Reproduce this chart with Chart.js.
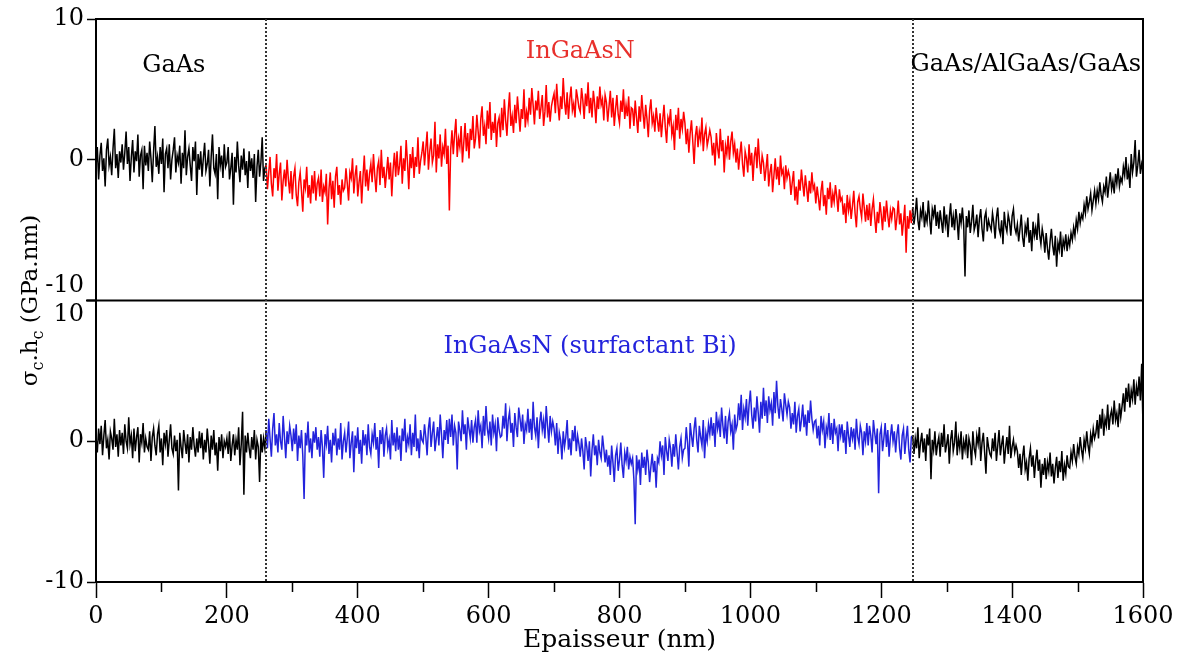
<!DOCTYPE html>
<html>
<head>
<meta charset="utf-8">
<script src="https://cdn.jsdelivr.net/npm/chart.js@4.4.0/dist/chart.umd.min.js"></script>
<style>
  html, body { margin: 0; padding: 0; background: #fff; }
</style>
</head>
<body>
<canvas id="myChart" width="1182" height="659"></canvas>
<script>

// sampling step along the thickness axis (nm)
var step = 2
// interfaces between the layers (nm)
var layerBounds = [260, 1248]
var xTicks = [0, 200, 400, 600, 800, 1000, 1200, 1400, 1600]
var yTicks = [-10, 0, 10]

// top panel : InGaAsN sample (one line = 40 nm)
var topGaAs = [
  -0.5, 0.9, -1.4, 0.3, 1.2, -0.8, 0.1, -1.9, 0.7, 1.5, -0.4, 0.2, -1.1, 0.8, 2.2, -0.6, 0.4, -1.3, 0.6, -0.2,
  1.1, -0.7, 0.5, 2.0, -0.3, 0.9, -1.5, 0.2, 1.4, -0.9, 0.6, -0.1, 1.8, -1.2, 0.3, 0.7, -2.1, 1.0, -0.4, 0.5,
  -0.8, 1.3, 0.1, -1.6, 0.6, 2.4, -0.5, 0.2, -1.0, 0.9, -0.3, 1.5, -2.3, 0.4, 0.8, -0.6, 1.1, -1.4, 0.0, 0.7,
  1.6, -0.9, 0.3, -0.2, 1.0, -1.7, 0.5, -0.6, 2.1, -1.1, 0.2, 0.8, -0.4, -1.5, 0.9, -0.1, 1.3, -2.5, 0.4, -0.7,
  0.6, -1.2, 0.1, 1.2, -0.8, -0.3, 0.7, -1.9, 0.2, 1.8, -0.6, -1.0, 0.4, -2.8, 0.9, -0.4, 0.3, -1.3, 1.1, -0.5,
  -0.2, 0.9, -1.4, -0.6, 0.5, -3.2, 0.2, -0.9, 1.3, -0.4, -1.6, 0.3, -0.7, 0.8, -1.1, -0.1, -2.0, 0.6, -0.8, 0.1,
  -1.3, 0.4, -3.0, -0.5, 0.7, -1.2, -0.2, 1.6, -1.5, -0.6
]
var topInGaAsN = [
  -0.4, -2.1, -0.9, 0.2, -1.7, -2.6, -0.6, -1.3, 0.4, -2.2, -1.0, -0.2, -2.9, -1.5, -0.7, -1.9, 0.0, -1.4, -2.4, -0.8,
  -2.8, -1.2, -0.6, -2.5, -3.3, -1.6, -0.9, -2.2, -3.7, -1.4, -2.0, -0.5, -2.7, -1.8, -3.1, -1.1, -2.4, -0.8, -2.9, -1.7,
  -1.3, -2.6, -0.7, -3.0, -1.9, -2.3, -1.0, -4.6, -2.1, -0.9, -2.8, -1.5, -3.4, -1.2, -0.5, -2.5, -1.8, -3.2, -1.4, -2.2,
  -2.0, -0.6, -1.7, -2.9, -0.9, -1.3, 0.1, -2.4, -1.1, -0.4, -2.6, -1.6, -0.8, -3.1, -1.2, 0.3, -1.9, -0.7, -2.2, -1.0,
  -0.3, -1.6, 0.4, -1.1, -2.3, -0.6, -0.1, -1.8, 0.7, -1.3, -0.5, -2.0, -0.9, 0.2, -1.4, -0.2, -2.6, -0.7, 0.5, -1.2,
  0.6, -1.1, -0.4, 1.0, -1.7, 0.1, -0.8, 1.4, -0.2, -2.1, 0.4, -0.6, 0.9, -1.3, 0.2, -0.5, 1.6, -1.0, -0.1, 0.5,
  1.3, -0.4, 0.8, 2.0, -0.7, 0.6, 1.5, -0.2, 0.3, 2.7, -0.9, 1.1, 0.1, 1.8, -0.5, 0.9, 0.4, 2.2, -0.3, 1.0,
  -3.6, 0.7, 2.1, 0.4, 1.8, 2.9, 0.2, 1.5, 0.9, 2.4, -0.2, 1.2, 2.6, 0.6, 1.9, 0.1, 2.2, 1.4, 3.1, 0.8,
  1.5, 3.2, 2.0, 0.8, 2.9, 3.8, 1.7, 2.4, 1.1, 3.5, 2.2, 4.1, 1.4, 2.7, 1.9, 3.3, 0.9, 2.6, 3.0, 1.6,
  3.7, 2.1, 4.3, 2.8, 1.7, 3.5, 4.8, 2.4, 3.1, 1.9, 3.9, 2.6, 4.5, 3.3, 2.0, 3.6, 2.9, 5.0, 2.3, 3.4,
  2.8, 4.4, 3.2, 5.1, 3.9, 2.5, 4.2, 3.5, 4.9, 2.9, 3.7, 4.6, 2.4, 3.4, 5.3, 3.0, 4.1, 2.7, 3.8, 4.3,
  4.7, 3.3, 5.4, 3.9, 2.8, 4.5, 3.6, 5.8, 4.1, 3.2, 4.8, 2.9, 4.3, 5.2, 3.5, 4.0, 3.0, 5.0, 4.4, 3.7,
  3.4, 5.1, 4.2, 2.9, 4.7, 3.8, 5.5, 3.3, 4.4, 3.0, 4.9, 4.0, 2.6, 4.5, 3.6, 5.2, 3.9, 4.3, 2.8, 4.6,
  4.1, 2.7, 3.8, 4.9, 3.0, 4.4, 2.4, 3.6, 4.6, 3.2, 2.6, 4.2, 3.4, 5.0, 2.9, 3.9, 3.1, 4.5, 2.2, 3.7,
  3.6, 2.4, 4.2, 3.0, 1.9, 3.8, 2.7, 4.6, 3.3, 2.2, 3.9, 2.9, 1.6, 3.5, 4.3, 2.6, 3.1, 2.0, 3.7, 2.8,
  2.0, 3.3, 1.6, 2.8, 3.9, 2.3, 1.2, 3.0, 2.6, 3.6, 1.8, 2.4, 0.7, 3.2, 2.1, 3.7, 1.5, 2.9, 2.2, 3.4,
  2.6, 1.1, 2.2, 0.5, 1.9, 2.8, 1.3, -0.3, 1.7, 2.4, 0.9, 2.0, 1.4, 3.0, 0.6, 1.8, 2.3, 1.0, 1.5, 2.1,
  1.6, 0.3, 1.2, -0.4, 1.9, 0.8, 0.1, 2.2, 0.6, 1.4, -0.9, 1.0, 0.4, 1.7, 0.0, 1.3, 2.0, 0.5, 1.1, -0.2,
  0.8, -0.7, 0.4, 1.3, -0.3, -1.2, 0.6, 0.1, -0.9, 1.1, -0.4, 0.5, -1.5, 0.2, 0.9, -0.6, 1.5, -0.1, -1.0, 0.3,
  -0.2, -1.5, -0.6, 0.4, -1.9, -0.9, -0.3, -2.3, -1.1, 0.1, -1.4, -0.5, -1.8, 0.3, -1.0, -0.7, -2.1, -0.4, -1.3, -0.8,
  -1.2, -2.5, -1.6, -0.8, -2.9, -1.9, -3.2, -1.4, -2.2, -0.7, -1.7, -2.6, -1.1, -2.0, -3.0, -1.5, -2.4, -0.9, -2.1, -1.8,
  -3.1, -1.9, -2.7, -3.6, -2.2, -1.5, -3.3, -2.5, -3.9, -2.0, -2.8, -1.6, -3.4, -2.4, -3.0, -1.8, -2.6, -3.7, -2.1, -2.9,
  -2.7, -3.9, -3.1, -4.5, -2.5, -3.6, -2.9, -4.2, -3.3, -2.2, -3.8, -4.8, -3.0, -2.6, -3.5, -4.1, -2.4, -3.4, -4.4, -3.2,
  -4.3, -3.1, -4.7, -3.5, -2.8, -4.1, -5.2, -3.7, -4.5, -3.0, -3.9, -5.0, -3.3, -4.4, -2.9, -4.0, -4.8, -3.6, -4.2, -3.4,
  -3.5, -5.0, -4.1, -2.9, -4.6, -3.8, -5.4, -4.4, -3.2, -6.6, -4.0, -4.9, -3.6, -4.5
]
var topCap = [
  -3.4, -4.6, -3.8, -2.7, -4.3, -5.0, -3.6, -4.1, -3.0, -4.8, -3.9, -4.4, -2.9, -4.2, -5.3, -3.5, -4.0, -3.2, -4.7, -3.7,
  -4.9, -3.6, -4.4, -5.2, -3.3, -4.6, -3.9, -5.5, -4.1, -3.1, -4.8, -4.0, -5.0, -3.5, -4.3, -5.7, -3.8, -4.5, -3.4, -4.7,
  -8.3, -4.0, -4.8, -3.6, -5.2, -4.4, -3.2, -5.0, -4.6, -3.9, -5.5, -4.2, -3.5, -4.9, -5.8, -4.1, -3.7, -5.1, -4.3, -4.7,
  -5.0, -3.8, -4.5, -5.6, -4.1, -3.4, -4.9, -5.3, -4.3, -6.0, -3.7, -4.7, -5.1, -3.9, -4.4, -5.4, -4.0, -3.5, -4.8, -5.2,
  -4.6, -5.8, -4.9, -3.9, -5.5, -6.2, -4.7, -5.2, -4.1, -5.9, -5.0, -6.5, -4.4, -5.4, -4.8, -5.7, -3.8, -5.3, -6.0, -4.9,
  -5.5, -6.6, -5.2, -6.3, -7.1, -5.8, -4.9, -6.1, -6.8, -5.4, -7.6, -5.9, -6.4, -5.1, -6.9, -5.7, -6.2, -5.3, -6.5, -5.6,
  -6.1, -5.2, -5.7, -4.8, -5.4, -4.3, -4.9, -3.7, -4.5, -3.9, -4.2, -3.2, -3.8, -2.6, -3.5, -3.0, -2.4, -3.6, -2.9, -2.2,
  -3.1, -2.2, -2.8, -1.6, -2.5, -3.0, -1.9, -2.3, -1.2, -2.7, -1.8, -0.9, -2.1, -1.5, -2.4, -1.0, -1.7, -0.6, -1.9, -1.3,
  -1.6, -0.5, -1.1, 0.2, -1.4, -0.7, -2.0, 0.4, -0.9, -0.2, 1.4, -1.2, -0.4, 0.7, -1.0, -0.3, -0.8
]

// bottom panel : InGaAsN grown with Bi surfactant
var botGaAs = [
  0.3, -0.8, 0.9, -0.2, 1.1, -1.0, 0.4, 1.5, -0.5, 0.1, -1.3, 0.7, 0.2, -0.6, 1.6, -0.4, 0.5, -1.1, 0.8, -0.3,
  0.6, -0.9, 1.2, 0.0, -0.5, 1.7, -0.2, 0.4, -1.2, 0.9, -0.7, 0.3, 1.0, -1.5, 0.5, -0.1, 1.3, -0.8, 0.2, -0.4,
  -0.6, 0.7, -1.4, 0.3, 0.9, -0.3, -1.0, 0.5, 1.1, -0.8, 0.2, -1.7, 0.6, -0.2, 0.8, -1.1, 0.1, 1.2, -0.5, -0.9,
  0.4, -0.7, 0.1, -3.5, 0.6, -0.4, -1.2, 0.8, -0.1, -0.9, 0.5, -1.5, 0.3, -0.6, 1.0, -0.3, -1.1, 0.2, -0.8, 0.7,
  -0.5, 0.6, -1.3, 0.1, -0.8, 0.9, -0.2, -1.6, 0.4, -0.6, 0.8, -1.0, -0.1, -2.1, 0.3, -0.7, 0.5, -1.2, 0.0, -0.4,
  0.2, -0.9, 0.7, -1.4, -0.3, 0.5, -1.0, 0.1, -0.6, 1.0, -1.7, -0.2, 2.1, -3.8, 0.4, -0.8, 0.6, -0.5, -1.2, 0.3,
  -0.6, 0.8, -1.3, 0.1, -0.4, -2.9, 0.5, -0.8, 0.2, -0.5
]
var botInGaAsN = [
  0.8, -0.5, 1.6, 0.2, -1.1, 0.9, 2.0, -0.3, 0.5, -0.8, 1.3, 0.0, -0.6, 1.8, 0.3, -1.2, 0.7, -0.2, 1.1, 0.4,
  -0.7, 0.9, -0.2, 1.2, -1.4, 0.4, -0.5, 0.8, -1.0, -4.1, 0.6, -0.3, 1.4, -0.8, 0.2, -1.2, 0.7, -0.1, 1.0, -0.6,
  0.3, -1.1, 0.8, -0.4, -2.6, 0.5, -0.2, 1.1, -0.9, 0.1, -1.5, 0.6, -0.3, 0.9, -1.0, 0.2, -0.6, 1.3, -1.3, 0.0,
  0.6, -0.8, 0.2, 1.4, -1.2, -0.1, 0.7, -2.2, 0.4, -0.5, 1.0, -0.9, 0.1, -1.6, 0.8, -0.3, 0.5, -1.0, 1.2, -0.4,
  -0.9, 0.5, -0.1, 1.3, -0.6, 0.3, -1.9, 0.8, -0.2, 1.0, -1.1, 0.4, 0.9, -0.5, 0.1, -1.3, 1.5, -0.3, 0.6, -0.7,
  1.0, -0.6, 0.4, -1.4, 0.9, 0.0, 1.6, -0.8, 0.3, -0.2, 1.2, -1.0, 0.6, -0.4, 1.9, -0.7, 0.2, -1.2, 0.8, 0.1,
  -0.1, 1.2, 0.3, -1.0, 0.9, 1.7, -0.4, 0.6, 1.4, -0.7, 0.2, 1.0, -0.3, 1.9, 0.5, -1.2, 0.8, 0.1, 1.5, -0.2,
  1.6, 0.3, 1.9, -0.3, 1.1, 0.6, -2.0, 1.4, 0.8, 0.0, 2.2, 0.5, 1.2, -0.6, 1.7, 0.9, 0.2, 1.5, -0.1, 1.0,
  1.5, -0.1, 2.2, 0.7, 1.1, -0.5, 1.8, 0.4, 2.5, 0.9, 0.2, 1.4, -0.3, 1.9, 0.6, 1.2, -0.7, 1.7, 0.8, 0.3,
  0.4, 1.8, 0.9, 2.7, 0.0, 1.5, 2.1, 0.6, 1.3, -0.4, 2.0, 1.0, 0.3, 2.4, 1.6, 0.7, 1.9, -0.2, 1.2, 0.8,
  2.3, 0.6, 1.6, 0.1, 2.8, 1.0, 0.4, 1.7, -0.5, 1.3, 2.1, 0.8, 1.5, 0.2, 2.5, 1.1, -0.1, 1.8, 0.7, 1.4,
  0.9, -0.3, 1.3, -0.9, 0.6, 0.1, -1.3, 0.7, -0.4, 0.3, 1.5, -0.6, 0.2, -1.0, 0.8, 0.0, 1.1, -0.7, 0.4, -0.2,
  -1.1, 0.2, -0.7, -2.0, 0.3, -0.4, -1.4, 0.0, -2.5, -0.6, 0.5, -1.0, -0.3, -1.7, 0.1, -0.8, -1.2, 0.4, -0.5, -1.5,
  -0.6, -1.8, -1.0, -2.4, -0.3, -1.5, -2.9, -1.0, -0.5, -2.1, -1.3, -0.1, -1.7, -2.6, -0.8, -1.4, -0.4, -2.0, -1.1, -1.6,
  -1.2, -2.7, -5.9, -1.0, -2.0, -1.3, -3.1, -0.8, -1.9, -1.1, -2.4, -0.6, -1.5, -2.9, -1.8, -0.9, -2.2, -1.4, -3.3, -1.2,
  -1.5, 0.0, -1.0, -0.3, -2.4, 0.3, -0.7, -1.4, 0.1, -0.5, -1.8, -0.2, -1.1, 0.5, -0.8, -2.0, -0.4, 0.2, -1.2, -0.6,
  -0.5, 1.0, -0.1, -1.8, 1.3, 0.4, -0.4, 0.9, 1.7, 0.1, -0.8, 1.1, 0.3, -0.3, 1.5, -1.2, 0.6, 0.0, 1.2, 0.5,
  1.7, 0.4, 1.3, -0.4, 2.1, 0.9, 1.5, 0.3, 2.4, 1.1, 0.2, 1.8, -0.2, 1.4, 2.0, 0.7, 1.2, -0.6, 1.9, 0.8,
  1.2, 2.7, 1.5, 3.3, 0.8, 2.3, 1.7, 3.0, 1.1, 2.6, 3.6, 1.9, 0.9, 2.4, 1.4, 3.2, 2.0, 0.6, 2.8, 1.6,
  3.8, 1.8, 2.9, 1.3, 3.2, 2.2, 2.7, 1.1, 3.5, 2.0, 4.3, 2.5, 1.6, 3.0, 2.3, 1.4, 3.4, 2.6, 1.9, 2.8,
  2.4, 0.9, 2.0, 1.2, 2.8, 0.6, 1.8, 2.3, 0.7, 1.5, 2.6, 1.0, 1.9, 0.4, 2.2, 1.3, 2.9, 1.6, 0.8, 1.4,
  1.5, 0.2, 1.1, -0.3, 1.8, 0.8, 1.4, -0.5, 1.0, 0.5, 2.0, 0.1, 1.3, -0.2, 1.6, 0.6, 0.9, -0.7, 1.2, 0.4,
  1.2, -0.1, 0.8, -0.9, 1.4, 0.4, -0.4, 1.0, 0.2, 0.9, -0.6, 1.6, 0.3, -0.2, 1.1, 0.6, -1.0, 0.7, 0.0, 1.3,
  -0.3, 1.1, 0.4, -0.8, 1.5, 0.6, -0.2, 0.9, -3.7, 0.5, 1.0, -0.7, 0.2, 1.3, -0.4, 0.8, -1.1, 0.3, 1.2, 0.0,
  0.7, -0.8, 0.5, 1.2, -0.5, -1.3, 0.4, 0.9, -0.9, 0.2, 1.1, -0.6, -1.5, 0.3
]
var botCap = [
  0.4, -0.9, 0.2, -0.5, 1.0, -1.2, -0.1, 0.6, -0.8, 0.2, -1.4, 0.5, -0.3, 0.9, -2.7, 0.1, -0.6, 0.7, -1.0, -0.2,
  0.3, -1.1, 0.6, -0.4, 1.2, -0.8, -0.2, 0.5, -1.6, 0.1, 0.8, -0.7, -0.1, 1.4, -1.0, 0.2, -0.5, 0.7, -1.3, 0.0,
  -0.6, 0.5, -1.2, 0.2, -0.3, -1.7, 0.7, -0.5, -1.0, 0.4, -0.2, 1.0, -1.4, -0.1, 0.6, -0.8, -2.3, 0.3, -0.4, -0.9,
  -1.1, 0.2, -0.7, 0.6, -1.4, -0.3, 0.8, -1.0, -0.2, 0.4, -1.6, -0.5, 0.3, -0.9, 1.1, -1.2, -0.4, 0.1, -0.8, -0.3,
  -0.7, -1.9, -0.9, -2.4, -1.1, -0.3, -2.0, -1.5, -2.8, -1.2, -0.5, -1.8, -1.0, -2.6, -1.4, -0.6, -2.1, -1.3, -3.3, -1.6,
  -2.4, -1.2, -2.7, -1.5, -2.1, -0.8, -2.5, -1.6, -3.0, -1.9, -1.1, -2.6, -1.4, -2.2, -0.7, -2.8, -1.7, -2.3, -1.0, -1.8,
  -1.9, -0.8, -1.4, -0.2, -1.1, -1.6, -0.4, -0.9, 0.3, -0.6, -1.2, 0.1, -0.5, 0.7, -0.3, -0.9, 0.5, -0.1, 0.9, 0.2,
  0.6, 1.5, 0.2, 1.9, 0.9, 2.3, 0.4, 1.6, 1.1, 2.6, 0.8, 1.8, 2.2, 1.2, 2.9, 1.5, 2.0, 1.0, 2.7, 1.7,
  2.5, 3.4, 2.1, 3.8, 2.8, 4.1, 2.4, 3.6, 3.0, 4.4, 2.6, 3.9, 3.2, 4.6, 2.9, 5.5, 1.0
]

var red = '#ff0000'
var blue = '#2323dc'
var serif = 'DejaVu Serif'

function toPoints(start, values) {
  return values.map(function (v, i) { return { x: start + i * step, y: v } })
}

function profile(gaas, middle, cap) {
  return toPoints(0, gaas)
    .concat(toPoints(layerBounds[0], middle))
    .concat(toPoints(layerBounds[1], cap))
}

function layerColor(x, color) {
  return (x >= layerBounds[0] && x < layerBounds[1]) ? color : '#000'
}

// text drawn over the panels, placed in data units
var layerLabels = [
  { text: 'GaAs', x: 119, y: 6.25, axis: 'yTop', color: '#000' },
  { text: 'InGaAsN', x: 740, y: 7.2, axis: 'yTop', color: '#e8302c' },
  { text: 'GaAs/AlGaAs/GaAs', x: 1421, y: 6.3, axis: 'yTop', color: '#000' },
  { text: 'InGaAsN (surfactant Bi)', x: 755, y: 6.3, axis: 'yBot', color: blue }
]

var decor = {
  id: 'decor',
  afterDatasetsDraw: function (chart) {
    var ctx = chart.ctx
    var area = chart.chartArea
    var xs = chart.scales.x
    var top = chart.scales.yTop
    ctx.save()

    // frame: top, separation between panels, right side
    ctx.strokeStyle = '#000'
    ctx.lineWidth = 2
    ctx.beginPath()
    ctx.moveTo(area.left, top.top)
    ctx.lineTo(area.right, top.top)
    ctx.moveTo(area.left - 10, top.bottom)
    ctx.lineTo(area.right, top.bottom)
    ctx.moveTo(area.right, area.top - 1)
    ctx.lineTo(area.right, area.bottom + 1)
    ctx.stroke()

    // minor ticks on the thickness axis
    ctx.lineWidth = 1.5
    ctx.beginPath()
    xs.ticks.forEach(function (t) {
      if (xTicks.indexOf(t.value) < 0) {
        var px = Math.round(xs.getPixelForValue(t.value)) + 0.5
        ctx.moveTo(px, area.bottom)
        ctx.lineTo(px, area.bottom + 10)
      }
    })
    ctx.stroke()

    // interfaces
    ctx.strokeStyle = '#333'
    ctx.lineWidth = 2
    ctx.setLineDash([2, 2])
    ctx.beginPath()
    layerBounds.forEach(function (b) {
      var px = Math.round(xs.getPixelForValue(b))
      ctx.moveTo(px, area.top)
      ctx.lineTo(px, area.bottom)
    })
    ctx.stroke()
    ctx.setLineDash([])

    // layer names
    ctx.font = '24px "' + serif + '"'
    ctx.textAlign = 'center'
    ctx.textBaseline = 'alphabetic'
    layerLabels.forEach(function (l) {
      ctx.fillStyle = l.color
      ctx.fillText(l.text, xs.getPixelForValue(l.x), chart.scales[l.axis].getPixelForValue(l.y))
    })

    // y title with subscripts
    var parts = [['\u03c3', 0], ['c', 1], ['.h', 0], ['c', 1], [' (GPa.nm)', 0]]
    var big = '23px "' + serif + '"'
    var small = '16px "' + serif + '"'
    var total = 0
    parts.forEach(function (p) {
      ctx.font = p[1] ? small : big
      total += ctx.measureText(p[0]).width
    })
    ctx.translate(37, (area.top + area.bottom) / 2)
    ctx.rotate(-Math.PI / 2)
    ctx.fillStyle = '#000'
    ctx.textAlign = 'left'
    var cx = -total / 2
    parts.forEach(function (p) {
      ctx.font = p[1] ? small : big
      ctx.fillText(p[0], cx, p[1] ? 6 : 0)
      cx += ctx.measureText(p[0]).width
    })
    ctx.restore()
  }
}

function yAxis(label) {
  return {
    type: 'linear',
    position: 'left',
    stack: 'panels',
    stackWeight: 1,
    min: -10,
    max: 10,
    afterFit: function (s) {
      s.width = 60
      s.paddingTop = 0
      s.paddingBottom = 0
    },
    afterBuildTicks: function (s) { s.ticks = yTicks.map(function (v) { return { value: v } }) },
    ticks: {
      color: '#000',
      padding: 3,
      font: { family: serif, size: 24 },
      callback: label
    },
    grid: { drawOnChartArea: false, tickLength: 9, tickWidth: 1.5, tickColor: '#000' },
    border: { color: '#000', width: 2 }
  }
}

var ctx = document.getElementById('myChart').getContext('2d')
var chart = new Chart(ctx, {
  type: 'line',
  data: {
    datasets: [{
      label: 'InGaAsN',
      data: profile(topGaAs, topInGaAsN, topCap),
      yAxisID: 'yTop',
      borderColor: '#000',
      borderWidth: 1.5,
      pointRadius: 0,
      tension: 0,
      segment: { borderColor: function (c) { return layerColor(c.p0.parsed.x, red) } }
    }, {
      label: 'InGaAsN (surfactant Bi)',
      data: profile(botGaAs, botInGaAsN, botCap),
      yAxisID: 'yBot',
      borderColor: '#000',
      borderWidth: 1.5,
      pointRadius: 0,
      tension: 0,
      segment: { borderColor: function (c) { return layerColor(c.p0.parsed.x, blue) } }
    }]
  },
  options: {
    responsive: false,
    animation: false,
    layout: { padding: { left: 36, right: 39, top: 19, bottom: 0 } },
    plugins: { legend: { display: false }, tooltip: { enabled: false } },
    scales: {
      x: {
        type: 'linear',
        position: 'bottom',
        min: 0,
        max: 1600,
        afterFit: function (s) { s.height = 77 },
        ticks: {
          stepSize: 100,
          autoSkip: false,
          maxRotation: 0,
          color: '#000',
          padding: 4,
          font: { family: serif, size: 24 },
          callback: function (v) { return xTicks.indexOf(v) >= 0 ? String(v) : '' }
        },
        grid: {
          drawOnChartArea: false,
          tickLength: 16,
          tickWidth: 1.5,
          tickColor: function (c) { return (c.tick && xTicks.indexOf(c.tick.value) < 0) ? 'rgba(0,0,0,0)' : '#000' }
        },
        border: { color: '#000', width: 2 },
        title: {
          display: true,
          text: 'Epaisseur (nm)',
          color: '#000',
          font: { family: serif, size: 25 },
          padding: { top: 0, bottom: 4 }
        }
      },
      // bottom panel first: stacked left axes are placed in reverse order
      yBot: yAxis(function (v) { return v === 10 ? ['', '10'] : String(v) }),
      yTop: yAxis(function (v) { return v === -10 ? ['-10', ''] : String(v) })
    }
  },
  plugins: [decor]
})

</script>
</body>
</html>
